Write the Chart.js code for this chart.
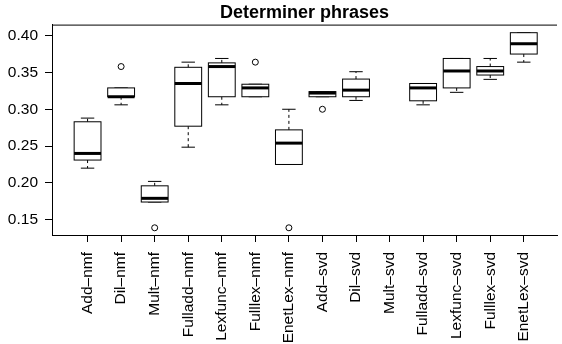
<!DOCTYPE html>
<html lang="en">
<head>
  <meta charset="UTF-8" />
  <title>Determiner phrases</title>
  <script src="https://cdn.jsdelivr.net/npm/chart.js"></script>
  <style>
    body { margin: 0; background: #fff; }
    .container { width: 562px; height: 344px; }
  </style>
</head>
<body>
  <div class="container"><canvas id="chart"></canvas></div>

  <script>
    const labels = ['Add–nmf', 'Dil–nmf', 'Mult–nmf', 'Fulladd–nmf', 'Lexfunc–nmf', 'Fulllex–nmf', 'EnetLex–nmf',
                    'Add–svd', 'Dil–svd', 'Mult–svd', 'Fulladd–svd', 'Lexfunc–svd', 'Fulllex–svd', 'EnetLex–svd'];
    const whiskerHigh = [0.288, 0.329, 0.202, 0.364, 0.369, 0.334, 0.300, 0.324, 0.351, null, 0.335, 0.369, 0.369, 0.404];
    const q3          = [0.283, 0.329, 0.196, 0.357, 0.363, 0.334, 0.272, 0.324, 0.341, null, 0.335, 0.369, 0.358, 0.404];
    const median      = [0.240, 0.317, 0.179, 0.335, 0.358, 0.329, 0.254, 0.322, 0.326, null, 0.329, 0.352, 0.352, 0.389];
    const q1          = [0.231, 0.317, 0.174, 0.277, 0.317, 0.317, 0.225, 0.317, 0.317, null, 0.3115, 0.329, 0.3465, 0.375];
    const whiskerLow  = [0.220, 0.306, 0.174, 0.2485, 0.306, 0.317, 0.225, 0.317, 0.312, null, 0.306, 0.323, 0.3406, 0.364];
    const outliers    = [[], [0.358], [0.139], [], [], [0.364], [0.139], [0.300], [], [], [], [], [], []];
    const yTicks = [0.15, 0.20, 0.25, 0.30, 0.35, 0.40];

    const FONT = "'Liberation Sans', Arial, sans-serif";

    const outlierPoints = [];
    outliers.forEach((vals, i) => vals.forEach(v => outlierPoints.push({ x: i + 1, y: v })));

    // boxes, whiskers and medians drawn through the chart scales
    const boxPlugin = {
      id: 'boxes',
      beforeDatasetsDraw(chart) {
        const ctx = chart.ctx;
        const xs = chart.scales.x, ys = chart.scales.y;
        const area = chart.chartArea;
        ctx.save();
        ctx.strokeStyle = '#000';
        labels.forEach((_, i) => {
          if (median[i] == null) return;
          const c = i + 1;
          const cx = xs.getPixelForValue(c);
          const boxL = xs.getPixelForValue(c - 0.4), boxR = xs.getPixelForValue(c + 0.4);
          const capL = xs.getPixelForValue(c - 0.2), capR = xs.getPixelForValue(c + 0.2);
          const yHi = ys.getPixelForValue(whiskerHigh[i]);
          const yQ3 = ys.getPixelForValue(q3[i]);
          const yMed = ys.getPixelForValue(median[i]);
          const yQ1 = ys.getPixelForValue(q1[i]);
          const yLo = ys.getPixelForValue(whiskerLow[i]);

          ctx.lineWidth = 1;
          ctx.setLineDash([3, 3]);
          ctx.beginPath();
          ctx.moveTo(cx, yQ3); ctx.lineTo(cx, yHi);
          ctx.moveTo(cx, yQ1); ctx.lineTo(cx, yLo);
          ctx.stroke();
          ctx.setLineDash([]);

          ctx.beginPath();
          ctx.moveTo(capL, yHi); ctx.lineTo(capR, yHi);
          ctx.moveTo(capL, yLo); ctx.lineTo(capR, yLo);
          ctx.stroke();

          ctx.fillStyle = '#fff';
          ctx.fillRect(boxL, yQ3, boxR - boxL, yQ1 - yQ3);
          ctx.strokeRect(boxL, yQ3, boxR - boxL, yQ1 - yQ3);

          ctx.lineWidth = 3;
          ctx.beginPath();
          ctx.moveTo(boxL, yMed); ctx.lineTo(boxR, yMed);
          ctx.stroke();
        });
        // top edge of the frame
        ctx.lineWidth = 1;
        ctx.beginPath();
        ctx.moveTo(area.left, area.top + 0.5);
        ctx.lineTo(area.right, area.top + 0.5);
        ctx.stroke();
        ctx.restore();
      }
    };

    new Chart(document.getElementById('chart'), {
      type: 'scatter',
      data: {
        datasets: [{
          data: outlierPoints,
          pointStyle: 'circle',
          pointRadius: 3,
          borderWidth: 1,
          borderColor: '#000',
          backgroundColor: 'rgba(0,0,0,0)'
        }]
      },
      options: {
        responsive: true,
        maintainAspectRatio: false,
        animation: false,
        layout: { padding: 0 },
        plugins: {
          legend: { display: false },
          tooltip: { enabled: false },
          title: {
            display: true,
            text: 'Determiner phrases',
            fullSize: false,
            color: '#000',
            font: { family: FONT, size: 18, weight: 'bold' },
            padding: { top: 2, bottom: 1 }
          }
        },
        scales: {
          x: {
            type: 'linear',
            min: -0.06,
            max: 14.99,
            afterBuildTicks: s => { s.ticks = labels.map((_, i) => ({ value: i + 1 })); },
            afterFit: s => { s.height = 109; },
            ticks: {
              autoSkip: false,
              minRotation: 90,
              maxRotation: 90,
              padding: 10,
              color: '#000',
              font: { family: FONT, size: 15.5 },
              callback: v => labels[v - 1]
            },
            grid: { drawOnChartArea: false, drawTicks: true, tickLength: 7, color: '#000' },
            border: { display: true, color: '#000', width: 1 }
          },
          y: {
            min: 0.1292,
            max: 0.415,
            afterBuildTicks: s => { s.ticks = yTicks.map(v => ({ value: v })); },
            afterFit: s => { s.width = 52; },
            ticks: {
              padding: 7,
              color: '#000',
              font: { family: FONT, size: 15.5 },
              callback: v => v.toFixed(2)
            },
            grid: { drawOnChartArea: false, drawTicks: true, tickLength: 7, color: '#000' },
            border: { display: true, color: '#000', width: 1 }
          }
        }
      },
      plugins: [boxPlugin]
    });
  </script>
</body>
</html>
